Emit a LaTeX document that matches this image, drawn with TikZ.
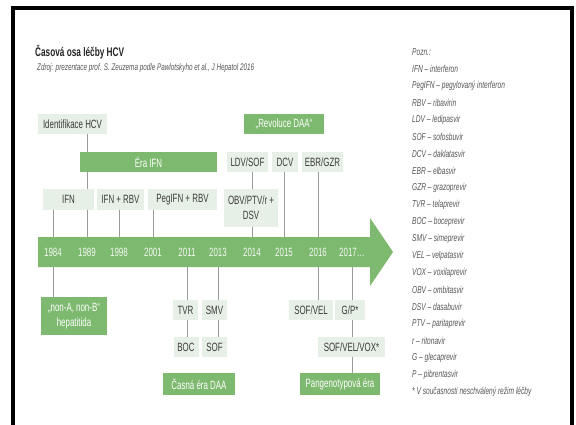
\documentclass[tikz,border=0pt]{standalone}
\usepackage{fontspec}
\setmainfont{Liberation Sans}[FakeStretch=0.66]
\definecolor{green1}{HTML}{7DB96E}
\definecolor{lightg}{HTML}{E7F0E6}
\definecolor{boxtext}{HTML}{3A3A3A}
\definecolor{linegrey}{HTML}{9A9A9A}
\definecolor{legtext}{HTML}{555555}
\pgfdeclarelayer{back}
\pgfdeclarelayer{bg}
\pgfsetlayers{back,bg,main}
\begin{document}
\begin{tikzpicture}[x=1pt,y=-1pt,
  wh/.style 2 args={minimum width=#1pt, minimum height=#2pt},
  box/.style={fill=lightg, text=boxtext, inner sep=0pt, align=center, font=\fontsize{12}{15}\selectfont},
  gbox/.style={fill=green1, text=white, inner sep=0pt, align=center, font=\fontsize{12}{15}\selectfont},
  conn/.style={draw=linegrey, line width=0.9pt},
  yr/.style={text=white!92!green1, inner sep=0pt, minimum height=30pt, font=\fontsize{12}{14}\selectfont},
  leg/.style={anchor=west, inner sep=0pt, text=legtext, font=\fontsize{10}{12}\selectfont\itshape}]
\useasboundingbox (0,0) rectangle (576,425);
\begin{pgfonlayer}{back}
\fill[white] (0,0) rectangle (576,425);
\end{pgfonlayer}
% frame
\draw[black, line width=4pt, line join=miter] (13,426) -- (13,8) -- (572,8) -- (572,426);
% title
\node[anchor=west, inner sep=0pt, text=black!85, font=\fontsize{12.5}{14}\selectfont\bfseries] (title) at (35,52) {Časová osa léčby HCV};
\node[anchor=west, inner sep=0pt, text=legtext, font=\fontsize{9.6}{11}\selectfont\itshape] (subtitle) at (37,68) {Zdroj: prezentace prof. S. Zeuzema podle Pawlotskyho et al., J Hepatol 2016};
% arrow
\fill[green1] (38,237) -- (370,237) -- (370,218) -- (393,252) -- (370,286) -- (370,267) -- (38,267) -- cycle;
% years
\node[yr] (y1984) at (53,252) {1984};
\node[yr] (y1989) at (87,252) {1989};
\node[yr] (y1998) at (119,252) {1998};
\node[yr] (y2001) at (153,252) {2001};
\node[yr] (y2011) at (187,252) {2011};
\node[yr] (y2013) at (218,252) {2013};
\node[yr] (y2014) at (252,252) {2014};
\node[yr] (y2015) at (284,252) {2015};
\node[yr] (y2016) at (318,252) {2016};
\node[yr] (y2017) at (352,252) {2017…};
% upper boxes
\node[box, wh={69}{20}] (idhcv) at (72.5,124) {Identifikace HCV};
\node[gbox, wh={80}{20}] (revol) at (284,124) {„Revoluce DAA“};
\node[gbox, wh={137}{20}] (eraifn) at (148.5,162) {Éra IFN};
\node[box, wh={41}{20}] (ldvsof) at (247.5,162) {LDV/SOF};
\node[box, wh={26}{20}] (dcv) at (285,162) {DCV};
\node[box, wh={41}{20}] (ebrgzr) at (322.5,162) {EBR/GZR};
\node[box, wh={51}{21}] (ifn) at (68.5,199.5) {IFN};
\node[box, wh={47}{21}] (ifnrbv) at (120.5,199.5) {IFN + RBV};
\node[box, wh={69}{21}] (pegifn) at (182.5,199.5) {PegIFN + RBV};
\node[box, wh={54}{38}] (obv) at (251,208) {OBV/PTV/r +\\DSV};
% lower boxes
\node[gbox, wh={66}{38}] (nonab) at (74,316) {„non-A, non-B“\\hepatitida};
\node[box, wh={25}{20}] (tvr) at (185.5,310) {TVR};
\node[box, wh={25}{20}] (boc) at (186,347) {BOC};
\node[box, wh={25}{20}] (smv) at (214.5,310) {SMV};
\node[box, wh={25}{20}] (sof) at (214.5,347) {SOF};
\node[gbox, wh={72}{22}] (casna) at (199,384) {Časná éra DAA};
\node[box, wh={44}{20}] (sofvel) at (311,310) {SOF/VEL};
\node[box, wh={30}{20}] (gp) at (350,310) {G/P*};
\node[box, wh={67}{20}] (sofvelvox) at (351.5,347) {SOF/VEL/VOX*};
\node[gbox, wh={80}{22}] (pangen) at (340,384) {Pangenotypová éra};
% connectors
\begin{pgfonlayer}{bg}
\draw[conn] (ifn.south -| y1984) -- (y1984.north);
\draw[conn] (idhcv.south -| y1989) -- (y1989.north);
\draw[conn] (ifnrbv.south -| y1998) -- (y1998.north);
\draw[conn] (pegifn.south -| y2001) -- (y2001.north);
\draw[conn] (ldvsof.south -| y2014) -- (obv.north -| y2014);
\draw[conn] (obv.south -| y2014) -- (y2014.north);
\draw[conn] (dcv.south -| y2015) -- (y2015.north);
\draw[conn] (ebrgzr.south -| y2016) -- (y2016.north);
\draw[conn] (y1984.south) -- (nonab.north -| y1984);
\draw[conn] (y2011.south) -- (tvr.north -| y2011);
\draw[conn] (tvr.south -| y2011) -- (boc.north -| y2011);
\draw[conn] (y2013.south) -- (smv.north -| y2013);
\draw[conn] (smv.south -| y2013) -- (sof.north -| y2013);
\draw[conn] (y2016.south) -- (sofvel.north -| y2016);
\draw[conn] (y2017.south) -- (gp.north -| y2017);
\draw[conn] (gp.south -| y2017) -- (sofvelvox.north -| y2017);
\draw[conn] (sofvelvox.south -| y2017) -- (pangen.north -| y2017);
\end{pgfonlayer}
% legend
\foreach \t [count=\i from 0] in {{Pozn.:},{IFN – interferon},{PegIFN – pegylovaný interferon},{RBV – ribavirin},{LDV – ledipasvir},{SOF – sofosbuvir},{DCV – daklatasvir},{EBR – elbasvir},{GZR – grazoprevir},{TVR – telaprevir},{BOC – boceprevir},{SMV – simeprevir},{VEL – velpatasvir},{VOX – voxilaprevir},{OBV – ombitasvir},{DSV – dasabuvir},{PTV – paritaprevir},{r – ritonavir},{G – glecaprevir},{P – pibrentasvir},{* V současnosti neschválený režim léčby}}
  \node[leg] (leg\i) at (412,{52+17*\i}) {\t};
\end{tikzpicture}
\end{document}
